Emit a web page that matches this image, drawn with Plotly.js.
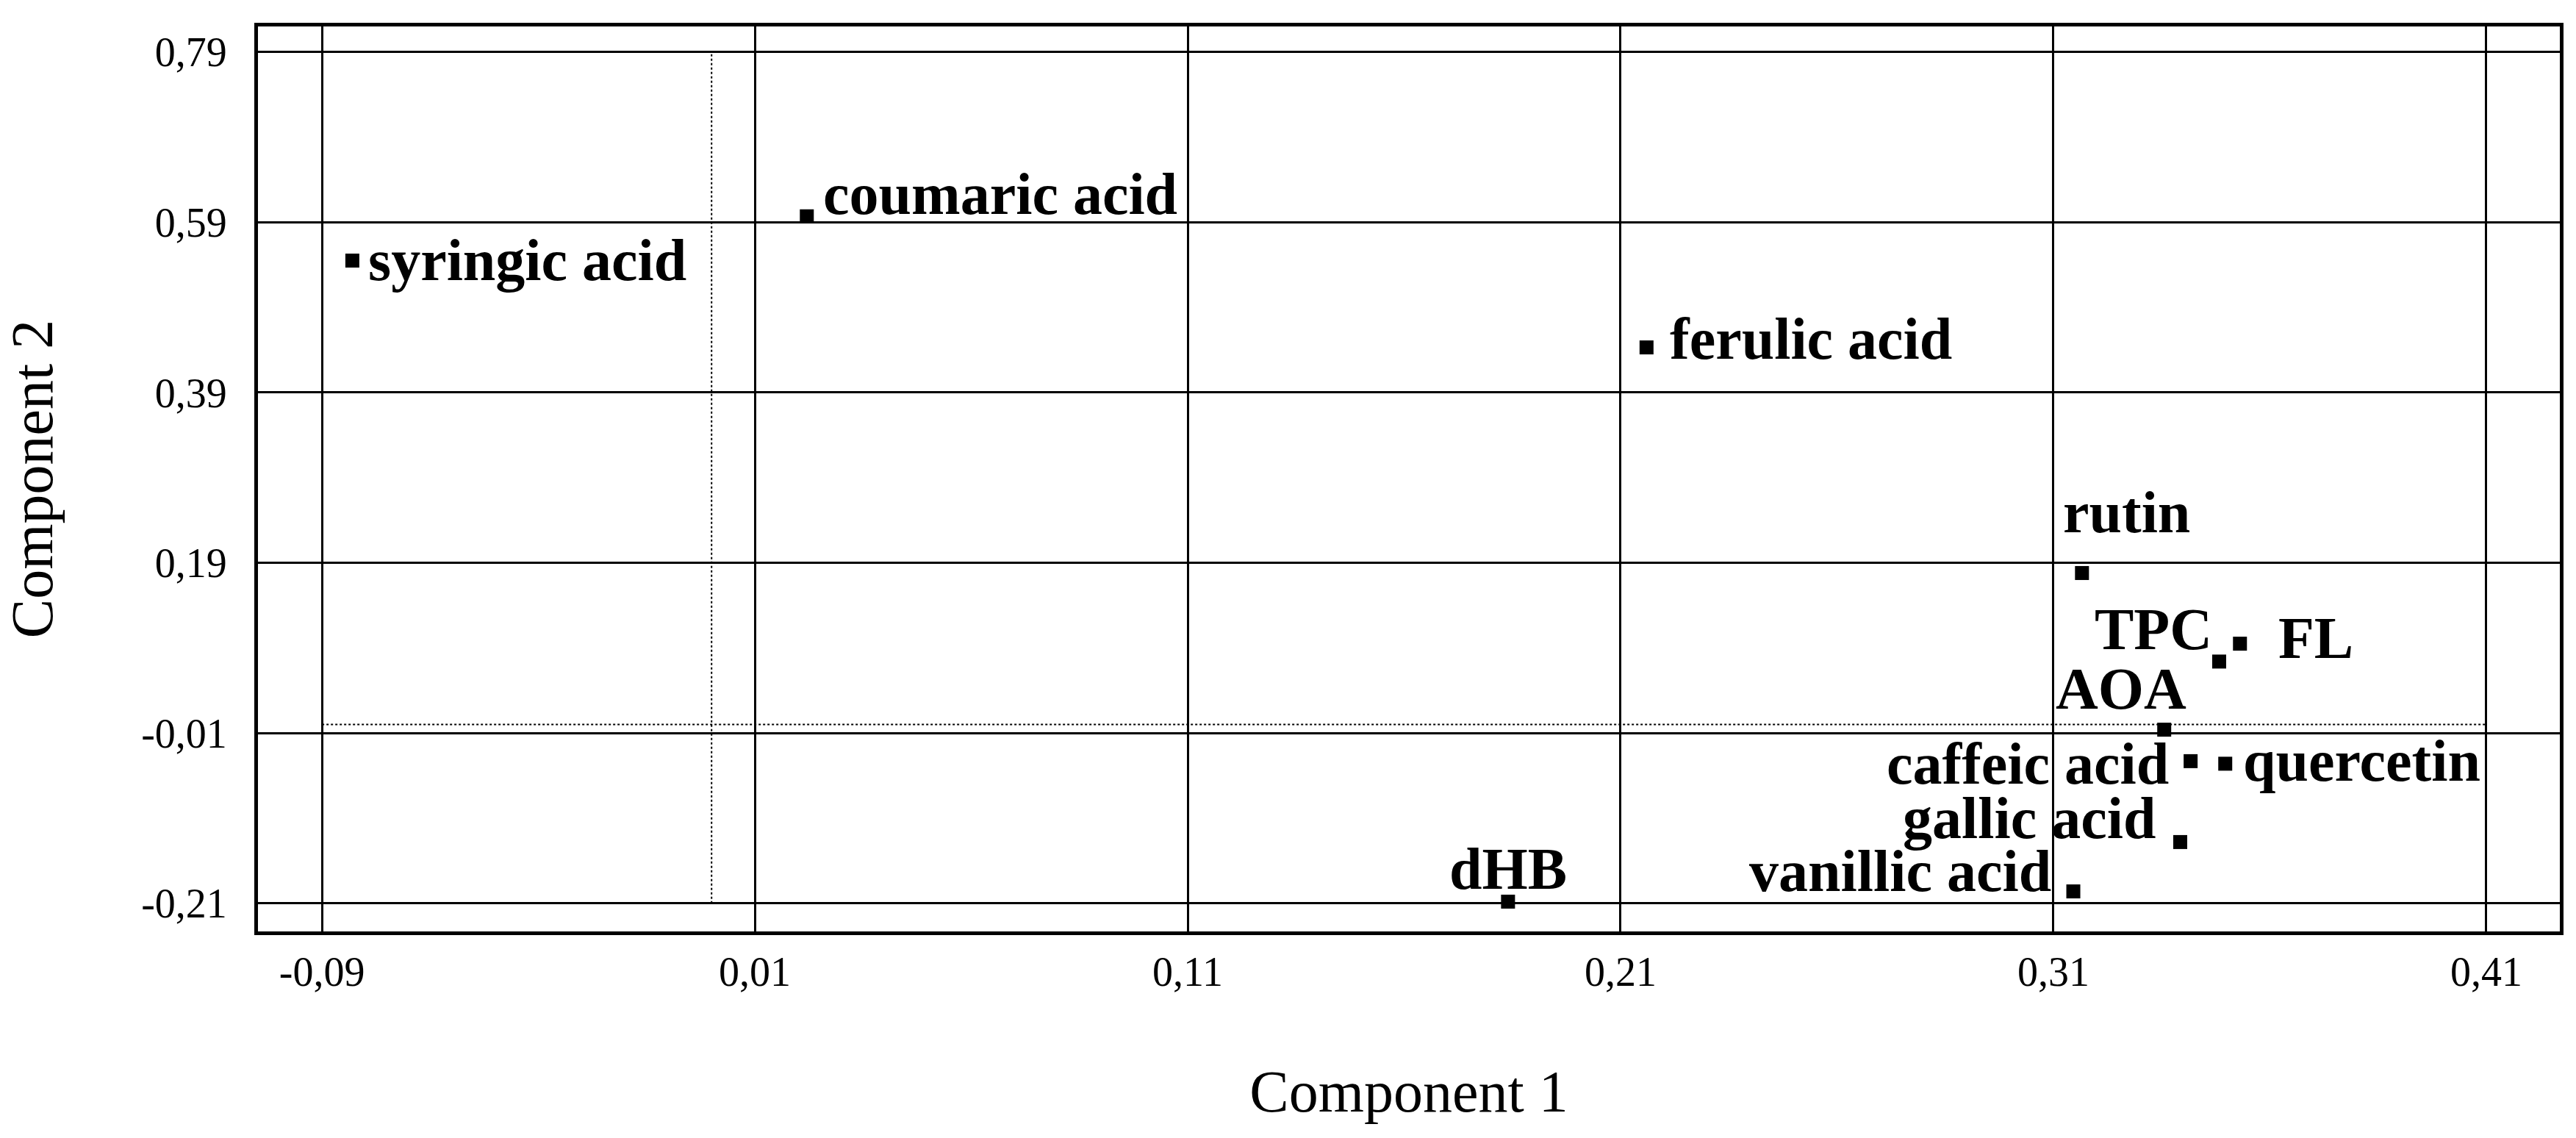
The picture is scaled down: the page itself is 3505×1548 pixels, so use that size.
<!DOCTYPE html>
<html>
<head>
<meta charset="utf-8">
<script src="https://cdn.plot.ly/plotly-3.0.1.min.js"></script>
<style>
html,body{margin:0;padding:0;background:#fff;}
#chart{width:3505px;height:1548px;}
</style>
</head>
<body>
<div id="chart"></div>
<script>
// ---- data ----
const labels = ["syringic acid","coumaric acid","ferulic acid","rutin","TPC","FL","AOA","caffeic acid","quercetin","gallic acid","vanillic acid","dHB"];
const comp1 = [-0.083, 0.022, 0.216, 0.3166, 0.3483, 0.3531, 0.3356, 0.3417, 0.3497, 0.3393, 0.3146, 0.184];
const comp2 = [0.545, 0.597, 0.443, 0.178, 0.074, 0.095, -0.006, -0.043, -0.046, -0.138, -0.196, -0.208];
const xTickVals = [-0.09, 0.01, 0.11, 0.21, 0.31, 0.41];
const xTickText = ["-0,09","0,01","0,11","0,21","0,31","0,41"];
const yTickVals = [-0.21, -0.01, 0.19, 0.39, 0.59, 0.79];
const yTickText = ["-0,21","-0,01","0,19","0,39","0,59","0,79"];
const refX = 0, refY = 0;

// ---- label placement (pixels) ----
const labAnchor = ["left","left","left","left","right","left","right","right","left","right","right","center"];
const labXShift = [20, 20, 30, -28, -8, 50, 32, -28, 22, -32, -28, 0];
const labYShift = [0, 30, 12, 82, 44, 8, 56, -4, 4, 32, 28, 44];

const serif = "'Liberation Serif', 'Times New Roman', serif";

const traces = [
  {
    x: [refX, refX], y: [yTickVals[0], yTickVals[yTickVals.length-1]],
    mode: "lines", line: {color: "#000", width: 2, dash: "dot"},
    hoverinfo: "skip", showlegend: false
  },
  {
    x: [xTickVals[0], xTickVals[xTickVals.length-1]], y: [refY, refY],
    mode: "lines", line: {color: "#000", width: 2, dash: "dot"},
    hoverinfo: "skip", showlegend: false
  },
  {
    x: comp1, y: comp2, mode: "markers", type: "scatter",
    marker: {symbol: "square", size: 19, color: "#000"},
    showlegend: false
  }
];

const annotations = labels.map((t, i) => ({
  x: comp1[i], y: comp2[i], xref: "x", yref: "y",
  text: "<b>" + t + "</b>", showarrow: false,
  xanchor: labAnchor[i], yanchor: "middle",
  xshift: labXShift[i], yshift: labYShift[i],
  font: {family: serif, size: 80, color: "#000"}
}));

const layout = {
  width: 3505, height: 1548,
  paper_bgcolor: "#fff", plot_bgcolor: "#fff",
  margin: {l: 351, r: 22, t: 36, b: 281},
  font: {family: serif, color: "#000"},
  showlegend: false,
  xaxis: {
    range: [-0.1048, 0.427],
    tickmode: "array", tickvals: xTickVals, ticktext: xTickText,
    ticks: "", ticklabelstandoff: 2,
    tickfont: {family: serif, size: 56, color: "#000"},
    showgrid: true, gridcolor: "#000", gridwidth: 3,
    zeroline: false,
    showline: true, linecolor: "#000", linewidth: 5, mirror: true,
    title: {text: "Component 1", font: {family: serif, size: 80, color: "#000"}, standoff: 105}
  },
  yaxis: {
    range: [-0.243, 0.82],
    tickmode: "array", tickvals: yTickVals, ticktext: yTickText,
    ticks: "", ticklabelstandoff: 26,
    tickfont: {family: serif, size: 56, color: "#000"},
    showgrid: true, gridcolor: "#000", gridwidth: 3,
    zeroline: false,
    showline: true, linecolor: "#000", linewidth: 5, mirror: true,
    title: {text: "Component 2", font: {family: serif, size: 80, color: "#000"}, standoff: 98}
  },
  annotations: annotations
};

Plotly.newPlot("chart", traces, layout, {displayModeBar: false, staticPlot: true});
</script>
</body>
</html>
